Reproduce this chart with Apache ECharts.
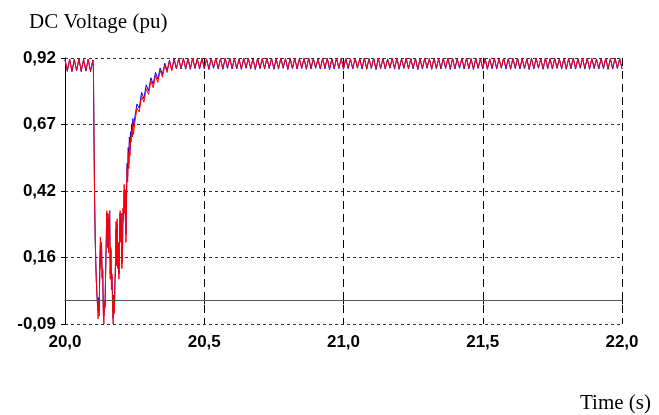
<!DOCTYPE html>
<html>
<head>
<meta charset="utf-8">
<script src="https://cdn.jsdelivr.net/npm/echarts@6/dist/echarts.min.js"></script>
<style>
  html, body { margin: 0; padding: 0; background: #fff; }
  #chart { width: 659px; height: 415px; }
</style>
</head>
<body>
<div id="chart"></div>
<script>
// DC link voltage (pu) around a fault at t = 20.1 s, two measurements.

const yTickLabels = ['-0,09', '0,16', '0,42', '0,67', '0,92'];
const xTickLabels = ['20,0', '20,5', '21,0', '21,5', '22,0'];
const yMin = -0.09;
const yMax = 0.92;
const xMin = 20.0;
const xMax = 22.0;

// Pre-fault record: 20.0 s .. 20.1 s, one sample every 1/120 s
const preFaultStart = 20.0;
const preFaultStep = 1 / 120;
const redPreFault = [0.912, 0.872, 0.915, 0.870, 0.913, 0.874, 0.916, 0.871, 0.914, 0.873, 0.915, 0.870, 0.912];
const bluePreFault = [0.914, 0.869, 0.916, 0.868, 0.915, 0.871, 0.917, 0.868, 0.915, 0.870, 0.916, 0.868, 0.913];

// Fault record: fine sampling, one sample every 1/480 s
const faultStart = 20.1 + 1 / 480;
const faultStep = 1 / 480;
const redFault = [
  0.88, 0.62, 0.39, 0.25, 0.14, 0.08, 0.02, -0.01, -0.07, 0.00,
  -0.06, 0.14, 0.24, 0.12, 0.22, 0.08, 0.12, -0.05, -0.09, 0.00,
  -0.03, 0.10, 0.22, 0.34, 0.20, 0.33, 0.18, 0.32, 0.34, 0.08,
  0.20, 0.04, 0.10, -0.02, -0.09, 0.01, -0.05, 0.05, 0.14, 0.30,
  0.13, 0.31, 0.12, 0.22, 0.08, 0.25, 0.34, 0.22, 0.33, 0.12,
  0.16, 0.35, 0.30, 0.44, 0.33, 0.42, 0.22, 0.38, 0.50, 0.45,
  0.56, 0.50, 0.60, 0.55, 0.62, 0.60, 0.65, 0.62, 0.67, 0.63
];
const blueFault = [
  0.88, 0.60, 0.39, 0.24, 0.15, 0.07, 0.03, -0.02, -0.04, 0.01,
  -0.04, 0.13, 0.21, 0.14, 0.20, 0.09, 0.11, -0.03, -0.06, 0.00,
  -0.02, 0.11, 0.21, 0.33, 0.21, 0.31, 0.19, 0.30, 0.34, 0.10,
  0.19, 0.08, 0.09, 0.01, -0.07, 0.02, -0.04, 0.06, 0.13, 0.27,
  0.14, 0.29, 0.13, 0.21, 0.10, 0.23, 0.33, 0.24, 0.31, 0.14,
  0.17, 0.33, 0.31, 0.42, 0.35, 0.41, 0.25, 0.39, 0.52, 0.47,
  0.58, 0.52, 0.62, 0.57, 0.64, 0.62, 0.67, 0.64, 0.69, 0.66
];

// Recovery and steady state: 20.25 s .. 22.0 s, one sample every 1/120 s
const recoveryStart = 20.25;
const recoveryStep = 1 / 120;
const redRecovery = [0.67, 0.73, 0.715, 0.775, 0.752, 0.803, 0.782, 0.833, 0.807, 0.853, 0.827,
  0.873, 0.847, 0.893, 0.865, 0.908, 0.872, 0.915, 0.880, 0.917, 0.881];
const blueRecovery = [0.69, 0.745, 0.73, 0.79, 0.765, 0.818, 0.795, 0.845, 0.82, 0.865, 0.84,
  0.882, 0.858, 0.90, 0.872, 0.912, 0.876, 0.917, 0.879, 0.919, 0.878];
const redSteady = [
  0.918,0.882,0.916,0.880,0.919,0.884,0.917,0.881,0.920,0.883,
  0.915,0.879,0.918,0.885,0.919,0.882,0.916,0.880,0.918,0.884,
  0.920,0.881,0.917,0.883,0.915,0.880,0.919,0.885,0.918,0.882,
  0.916,0.879,0.919,0.883,0.917,0.881,0.920,0.884,0.918,0.880,
  0.915,0.882,0.919,0.885,0.917,0.879,0.918,0.883,0.920,0.881,
  0.916,0.884,0.918,0.880,0.919,0.882,0.917,0.885,0.915,0.881,
  0.918,0.883,0.920,0.879,0.916,0.882,0.919,0.884,0.917,0.880,
  0.918,0.883,0.915,0.881,0.919,0.885,0.917,0.882,0.920,0.880,
  0.916,0.884,0.918,0.879,0.919,0.883,0.917,0.881,0.915,0.885,
  0.918,0.882,0.920,0.880,0.916,0.884,0.919,0.881,0.917,0.883,
  0.918,0.879,0.915,0.882,0.919,0.885,0.917,0.880,0.920,0.883,
  0.916,0.881,0.918,0.884,0.919,0.880,0.917,0.882,0.915,0.885,
  0.918,0.881,0.920,0.883,0.916,0.879,0.919,0.884,0.917,0.882,
  0.918,0.880,0.915,0.883,0.919,0.881,0.917,0.885,0.920,0.882,
  0.916,0.880,0.918,0.884,0.919,0.881,0.917,0.883,0.915,0.879,
  0.918,0.882,0.920,0.885,0.916,0.880,0.919,0.883,0.917,0.881,
  0.918,0.884,0.915,0.882,0.919,0.880,0.917,0.883,0.920,0.881,
  0.916,0.885,0.918,0.882,0.919,0.880,0.917,0.884,0.915,0.881,
  0.918,0.883,0.920,0.880,0.916,0.882,0.919,0.884,0.917,0.881
];
const blueSteady = [
  0.919,0.878,0.918,0.877,0.920,0.880,0.917,0.878,0.919,0.879,
  0.917,0.876,0.919,0.881,0.920,0.878,0.918,0.877,0.919,0.880,
  0.920,0.878,0.918,0.879,0.917,0.877,0.920,0.881,0.919,0.878,
  0.918,0.876,0.920,0.879,0.918,0.878,0.920,0.880,0.919,0.877,
  0.917,0.878,0.920,0.881,0.918,0.876,0.919,0.879,0.920,0.878,
  0.918,0.880,0.919,0.877,0.920,0.878,0.918,0.881,0.917,0.878,
  0.919,0.879,0.920,0.876,0.918,0.878,0.920,0.880,0.918,0.877,
  0.919,0.879,0.917,0.878,0.920,0.881,0.918,0.878,0.920,0.877,
  0.918,0.880,0.919,0.876,0.920,0.879,0.918,0.878,0.917,0.881,
  0.919,0.878,0.920,0.877,0.918,0.880,0.920,0.878,0.918,0.879,
  0.919,0.876,0.917,0.878,0.920,0.881,0.918,0.877,0.920,0.879,
  0.918,0.878,0.919,0.880,0.920,0.877,0.918,0.878,0.917,0.881,
  0.919,0.878,0.920,0.879,0.918,0.876,0.920,0.880,0.918,0.878,
  0.919,0.877,0.917,0.879,0.920,0.878,0.918,0.881,0.920,0.878,
  0.918,0.877,0.919,0.880,0.920,0.878,0.918,0.879,0.917,0.876,
  0.919,0.878,0.920,0.881,0.918,0.877,0.920,0.879,0.918,0.878,
  0.919,0.880,0.917,0.878,0.920,0.877,0.918,0.879,0.920,0.878,
  0.918,0.881,0.919,0.878,0.920,0.877,0.918,0.880,0.917,0.878,
  0.919,0.879,0.920,0.877,0.918,0.878,0.920,0.880,0.918,0.878
];

function sampled(start, step, values) {
  return values.map((v, j) => [start + j * step, v]);
}

function buildTrace(pre, fault, recovery, steady) {
  return sampled(preFaultStart, preFaultStep, pre)
    .concat(sampled(faultStart, faultStep, fault))
    .concat(sampled(recoveryStart, recoveryStep, recovery.concat(steady)));
}

const redTrace = buildTrace(redPreFault, redFault, redRecovery, redSteady);
const blueTrace = buildTrace(bluePreFault, blueFault, blueRecovery, blueSteady);

const labelFont = {
  fontFamily: '"Liberation Sans", Arial, sans-serif',
  fontWeight: 'bold',
  fontSize: 17,
  color: '#000'
};

const captionFont = {
  fontFamily: '"Liberation Serif", "Times New Roman", serif',
  fontWeight: 'normal',
  fontSize: 21,
  color: '#000'
};

const chart = echarts.init(document.getElementById('chart'), null, { renderer: 'canvas' });

chart.setOption({
  animation: false,
  backgroundColor: '#fff',
  title: [
    { text: 'DC Voltage (pu)', left: 29, top: 12, padding: 0, textStyle: captionFont },
    { text: 'Time (s)', right: 8, top: 393, padding: 0, textStyle: captionFont }
  ],
  grid: { left: 65, right: 37, top: 58, bottom: 91, containLabel: false },
  xAxis: {
    type: 'value',
    min: xMin,
    max: xMax,
    interval: 0.5,
    axisLine: { show: true, lineStyle: { color: '#000', width: 1 } },
    axisTick: { show: true, length: 4, lineStyle: { color: '#000' } },
    axisLabel: Object.assign({
      margin: 10,
      formatter: (v) => xTickLabels[Math.round((v - xMin) / 0.5)]
    }, labelFont),
    splitLine: { show: true, lineStyle: { color: '#000', width: 1, type: [8, 5] } }
  },
  yAxis: [
    {
      // value scale for the traces
      type: 'value',
      min: yMin,
      max: yMax,
      show: false,
      splitLine: { show: false }
    },
    {
      // four equal divisions between the extremes, carrying the printed ticks
      type: 'value',
      position: 'left',
      min: 0,
      max: yTickLabels.length - 1,
      interval: 1,
      axisLine: { show: true, onZero: false, lineStyle: { color: '#000', width: 1 } },
      axisTick: { show: true, length: 4, lineStyle: { color: '#000' } },
      axisLabel: Object.assign({
        margin: 9,
        formatter: (v) => yTickLabels[Math.round(v)]
      }, labelFont),
      splitLine: { show: true, lineStyle: { color: '#333', width: 1, type: [3, 3] } }
    }
  ],
  series: [
    {
      name: 'Udc 2',
      type: 'line',
      yAxisIndex: 0,
      data: blueTrace,
      showSymbol: false,
      symbol: 'none',
      lineStyle: { color: '#0000ff', width: 1 },
      markLine: {
        silent: true,
        symbol: 'none',
        label: { show: false },
        lineStyle: { color: '#555', width: 1, type: 'solid' },
        data: [{ yAxis: 0 }]
      }
    },
    {
      name: 'Udc 1',
      type: 'line',
      yAxisIndex: 0,
      data: redTrace,
      showSymbol: false,
      symbol: 'none',
      lineStyle: { color: '#ff0000', width: 1 }
    }
  ]
});
</script>
</body>
</html>
